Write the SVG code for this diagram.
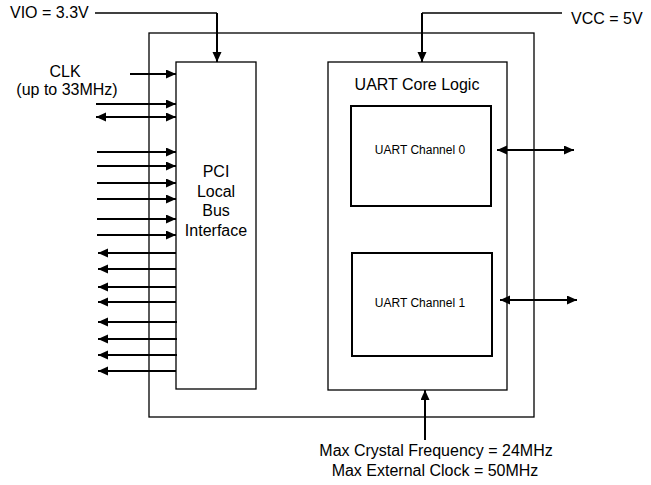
<svg xmlns="http://www.w3.org/2000/svg" width="651" height="485" viewBox="0 0 651 485">
<style>
.box{fill:#fff;stroke:#000;stroke-width:1.3}
.ch{fill:#fff;stroke:#000;stroke-width:2}
.t{font-family:"Liberation Sans",Arial,sans-serif;font-size:16px;fill:#000}
.s{font-family:"Liberation Sans",Arial,sans-serif;font-size:12px;fill:#000}
.w{stroke:#000;stroke-width:1.5;fill:none}
.a{stroke:#000;stroke-width:2;fill:none;marker-end:url(#ah)}
.b{stroke:#000;stroke-width:2;fill:none;marker-end:url(#ah);marker-start:url(#ah)}
</style>
<defs>
<marker id="ah" markerUnits="userSpaceOnUse" markerWidth="11" markerHeight="10" refX="10" refY="4.5" orient="auto-start-reverse" viewBox="0 0 11 10">
<path d="M0,0 L10,4.5 L0,9 z" fill="#000"/>
</marker>
</defs>
<rect width="651" height="485" fill="#fff"/>
<g id="outer"><rect class="box" x="149" y="33" width="385" height="384"/></g>
<g id="pci"><rect class="box" x="176" y="62" width="80" height="327"/>
<text class="t" text-anchor="middle" x="216" y="177">PCI</text>
<text class="t" text-anchor="middle" x="216" y="196.5">Local</text>
<text class="t" text-anchor="middle" x="216" y="216">Bus</text>
<text class="t" text-anchor="middle" x="216" y="235.5">Interface</text></g>
<g id="core"><rect class="box" x="328" y="62" width="179" height="328"/>
<text class="t" text-anchor="middle" x="417" y="90">UART Core Logic</text></g>
<g id="ch0"><rect class="ch" x="351" y="106" width="140" height="100"/>
<text class="s" text-anchor="middle" x="420" y="154">UART Channel 0</text></g>
<g id="ch1"><rect class="ch" x="352" y="253" width="140" height="103"/>
<text class="s" text-anchor="middle" x="420" y="307">UART Channel 1</text></g>
<g id="labels">
<text class="t" x="10" y="18">VIO = 3.3V</text>
<text class="t" x="571" y="24">VCC = 5V</text>
<text class="t" text-anchor="middle" x="65" y="77">CLK</text>
<text class="t" text-anchor="middle" x="67" y="95">(up to 33MHz)</text>
<text class="t" text-anchor="middle" x="436" y="456">Max Crystal Frequency = 24MHz</text>
<text class="t" text-anchor="middle" x="435" y="476">Max External Clock = 50MHz</text>
</g>
<g id="connectors">
<path class="w" d="M95,13 H217"/>
<path class="a" d="M217,13 V62"/>
<path class="w" d="M562,13 H422"/>
<path class="a" d="M422,13 V62"/>
<path class="a" d="M130,74 H176"/>
<path class="a" d="M96,104 H176"/>
<path class="b" d="M96,117 H176"/>
<path class="a" d="M97,152 H176"/>
<path class="a" d="M97,166 H176"/>
<path class="a" d="M97,183 H176"/>
<path class="a" d="M97,199 H176"/>
<path class="a" d="M97,219 H176"/>
<path class="a" d="M97,235 H176"/>
<path class="a" d="M176,253 H98"/>
<path class="a" d="M176,269 H98"/>
<path class="a" d="M176,287 H98"/>
<path class="a" d="M176,302 H98"/>
<path class="a" d="M177,322 H98"/>
<path class="a" d="M177,339 H98"/>
<path class="a" d="M177,355 H98"/>
<path class="a" d="M176,371 H98"/>
<path class="b" d="M497,150 H574"/>
<path class="b" d="M500,300 H577"/>
<path class="a" d="M425,440 V390"/>
</g>
</svg>
